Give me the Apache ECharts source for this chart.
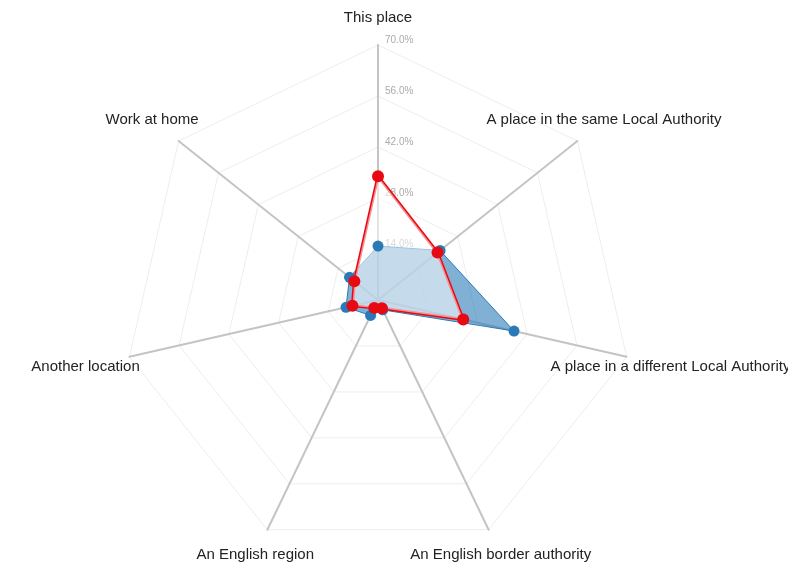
<!DOCTYPE html>
<html>
<head>
<meta charset="utf-8">
<script src="https://cdn.jsdelivr.net/npm/echarts@6/dist/echarts.min.js"></script>
<style>
  html, body { margin: 0; padding: 0; background: #fff; }
  #chart { width: 788px; height: 585px; }
</style>
</head>
<body>
<div id="chart"></div>
<script>
// indicators listed counter-clockwise from the top (echarts radar order)
var categories = [
  'This place',
  'Work at home',
  'Another location',
  'An English region',
  'An English border authority',
  'A place in a different Local Authority',
  'A place in the same Local Authority'
]
var maxValue = 70
var tickValues = [14, 28, 42, 56, 70]
// percentages
var blueValues = [14.8, 10, 9, 4.7, 3, 38.3, 21.8]
var redValues = [34, 8.3, 7.2, 2.4, 2.5, 24, 20.9]

var chart = echarts.init(document.getElementById('chart'))

var indicator = categories.map(function (name, i) {
  // names sit a bit further out on the near-horizontal axes
  var dx = Math.sin(i * 2 * Math.PI / categories.length)
  var item = {
    name: name,
    max: maxValue,
    min: 0,
    nameGap: Math.round(27 + 20 * Math.pow(Math.abs(dx), 4))
  }
  if (i === 0) {
    item.axisLabel = { show: true }
  }
  return item
})

chart.setOption({
  animation: false,
  radar: {
    center: [378, 300],
    radius: 255,
    startAngle: 90,
    shape: 'polygon',
    splitNumber: tickValues.length,
    indicator: indicator,
    axisName: {
      color: '#222',
      fontFamily: 'Liberation Sans, Arial, sans-serif',
      fontSize: 15,
      align: 'center',
      verticalAlign: 'middle'
    },
    axisLine: {
      lineStyle: { color: '#c4c4c4', width: 2 }
    },
    splitLine: {
      lineStyle: { color: '#ededed', width: 1 }
    },
    splitArea: { show: false },
    axisTick: { show: false },
    axisLabel: {
      show: false,
      color: '#aaa',
      fontSize: 10,
      fontFamily: 'Liberation Sans, Arial, sans-serif',
      margin: -7,
      align: 'left',
      verticalAlign: 'bottom',
      showMinLabel: false,
      formatter: function (v) {
        return v === 0 ? '' : v.toFixed(1) + '%'
      }
    }
  },
  series: [{
    type: 'radar',
    symbol: 'circle',
    data: [
      {
        name: 'blue',
        value: blueValues,
        symbolSize: 11,
        itemStyle: { color: '#2a7ab8' },
        lineStyle: { color: '#2a7ab8', width: 1 },
        areaStyle: { color: '#2c7bb6', opacity: 0.6 }
      },
      {
        name: 'red',
        value: redValues,
        symbolSize: 12,
        itemStyle: { color: '#e80a12' },
        lineStyle: { color: '#e80a12', width: 3 },
        areaStyle: { color: '#ffffff', opacity: 0.55 }
      }
    ]
  }]
})
</script>
</body>
</html>
